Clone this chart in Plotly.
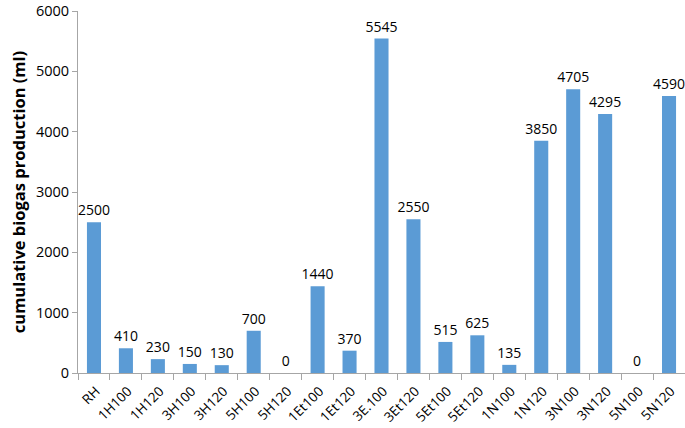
import plotly.graph_objects as go

categories = ["RH", "1H100", "1H120", "3H100", "3H120", "5H100", "5H120", "1Et100", "1Et120",
              "3E.100", "3Et120", "5Et100", "5Et120", "1N100", "1N120", "3N100", "3N120", "5N100", "5N120"]
values = [2500, 410, 230, 150, 130, 700, 0, 1440, 370, 5545, 2550, 515, 625, 135, 3850, 4705, 4295, 0, 4590]
y_ticks = [0, 1000, 2000, 3000, 4000, 5000, 6000]

fig = go.Figure(go.Bar(
    x=categories, y=values,
    marker=dict(color="#5B9BD5", line=dict(width=0)),
    text=[str(v) for v in values], textposition="outside",
    textfont=dict(size=14, color="#000000", family="Open Sans"),
    constraintext="none",
    cliponaxis=False,
))
fig.update_layout(
    width=685, height=428,
    margin=dict(l=78, r=0, t=11, b=55, autoexpand=False),
    plot_bgcolor="white", paper_bgcolor="white",
    bargap=0.56, showlegend=False,
    font=dict(family="Open Sans", color="#000000"),
    uniformtext=dict(minsize=14, mode="show"),
)
fig.update_yaxes(
    range=[0, 6001], tickvals=y_ticks, showgrid=False,
    showline=True, linecolor="#A6A6A6", linewidth=1,
    ticks="outside", ticklen=5, tickcolor="#A6A6A6",
    tickfont=dict(size=14.5, family="Open Sans"),
    title=dict(text="<b>cumulative biogas production (ml)</b>", font=dict(size=16.5, family="Open Sans"), standoff=6),
    zeroline=False, ticklabeloverflow="allow", automargin=False,
)
fig.update_xaxes(
    showline=True, linecolor="#A6A6A6", linewidth=1,
    ticks="outside", ticklen=6, tickcolor="#A6A6A6", tickson="boundaries",
    tickangle=-45, tickfont=dict(size=13.5, family="Open Sans"),
    ticklabelstandoff=4, ticklabelshift=2,
    showgrid=False, automargin=False,
)
fig.write_html("out.html", config={"displayModeBar": False},
               post_script="document.body.style.margin='0';document.body.style.overflow='hidden';")
